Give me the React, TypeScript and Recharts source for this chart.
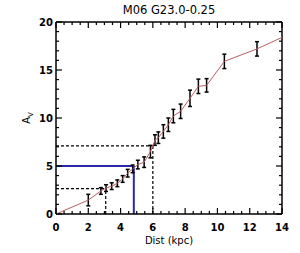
import React from "react";
import {
  ComposedChart,
  XAxis,
  YAxis,
  Scatter,
  ErrorBar,
  ReferenceLine,
} from "recharts";

const distKpc = [2.0, 2.78, 3.1, 3.45, 3.8, 4.13, 4.44, 4.75, 5.07, 5.46, 5.85, 6.13, 6.34, 6.65, 6.96, 7.27, 7.72, 8.3, 8.82, 9.33, 10.43, 12.45];
const avValues = [1.45, 2.4, 2.7, 2.9, 3.2, 3.65, 4.25, 4.7, 5.15, 5.4, 6.5, 7.7, 7.95, 8.6, 9.3, 10.2, 10.7, 12.05, 13.3, 13.4, 15.9, 17.2];
const avErrors = [0.6, 0.35, 0.35, 0.35, 0.35, 0.35, 0.4, 0.4, 0.45, 0.55, 0.65, 0.55, 0.6, 0.7, 0.7, 0.7, 0.75, 0.85, 0.75, 0.7, 0.75, 0.75];

const lineStart = { x: 0, y: 0 };
const lineEnd = { x: 14, y: 18.4 };

const xAllTicks = Array.from({ length: 29 }, (_, i) => i * 0.5);
const yAllTicks = Array.from({ length: 21 }, (_, i) => i);

const lowerDashed = { x: 3.08, y: 2.65 };
const upperDashed = { x: 6.0, y: 7.1 };
const blueMark = { x: 4.82, y: 5.0 };

const titleText = "M06 G23.0-0.25";
const xLabelText = "Dist (kpc)";

const errData = distKpc.map((x, i) => ({ x, y: avValues[i], err: avErrors[i] }));
const lineData = [lineStart, ...distKpc.map((x, i) => ({ x, y: avValues[i] })), lineEnd];

const FONT = "'DejaVu Sans', 'Liberation Sans', sans-serif";

const isMajor = (v: number, step: number) => Math.abs(v / step - Math.round(v / step)) < 1e-6;

const BottomTick = (props: any) => {
  const { x, y, payload } = props;
  const major = isMajor(payload.value, 2);
  const len = major ? 6 : 3;
  return (
    <g>
      <line x1={x} x2={x} y1={y} y2={y - len} stroke="#000" strokeWidth={1.2} />
      {major && (
        <text x={x} y={y + 17} textAnchor="middle" fontSize={10} fontWeight="bold" fontFamily={FONT} fill="#000">
          {payload.value}
        </text>
      )}
    </g>
  );
};

const TopTick = (props: any) => {
  const { x, y, payload } = props;
  const major = isMajor(payload.value, 2);
  const len = major ? 6 : 3;
  return <line x1={x} x2={x} y1={y} y2={y + len} stroke="#000" strokeWidth={1.2} />;
};

const LeftTick = (props: any) => {
  const { x, y, payload } = props;
  const major = isMajor(payload.value, 5);
  const len = major ? 6 : 3;
  return (
    <g>
      <line x1={x} x2={x + len} y1={y} y2={y} stroke="#000" strokeWidth={1.2} />
      {major && (
        <text x={x - 3} y={y + 4} textAnchor="end" fontSize={10} fontWeight="bold" fontFamily={FONT} fill="#000">
          {payload.value}
        </text>
      )}
    </g>
  );
};

const RightTick = (props: any) => {
  const { x, y, payload } = props;
  const major = isMajor(payload.value, 5);
  const len = major ? 6 : 3;
  return <line x1={x} x2={x - len} y1={y} y2={y} stroke="#000" strokeWidth={1.2} />;
};

const NoShape = () => null;

export default function App() {
  return (
    <div style={{ position: "absolute", left: 0, top: 0, width: 300, height: 253, background: "#fff" }}>
      <ComposedChart width={300} height={253} margin={{ top: 0, right: 0, bottom: 0, left: 0 }}>
        <XAxis
          xAxisId={0}
          type="number"
          dataKey="x"
          domain={[0, 14]}
          ticks={xAllTicks}
          interval={0}
          orientation="bottom"
          height={39}
          tickSize={0}
          tickMargin={0}
          tickLine={false}
          tick={<BottomTick />}
          axisLine={{ stroke: "#000", strokeWidth: 1.5 }}
          allowDataOverflow
          label={{
            content: (p: any) => {
              const vb = p.viewBox;
              return (
                <text x={vb.x + vb.width / 2} y={vb.y + 30} textAnchor="middle" fontSize={10} fontFamily={FONT} fill="#000">
                  {xLabelText}
                </text>
              );
            },
          }}
        />
        <XAxis
          xAxisId="top"
          type="number"
          dataKey="x"
          domain={[0, 14]}
          ticks={xAllTicks}
          interval={0}
          orientation="top"
          height={22}
          tickSize={0}
          tickMargin={0}
          tickLine={false}
          tick={<TopTick />}
          axisLine={{ stroke: "#000", strokeWidth: 1.5 }}
          allowDataOverflow
          label={{
            content: (p: any) => {
              const vb = p.viewBox;
              return (
                <text x={vb.x + vb.width / 2} y={14} textAnchor="middle" fontSize={11.5} fontFamily={FONT} fill="#000">
                  {titleText}
                </text>
              );
            },
          }}
        />
        <YAxis
          yAxisId={0}
          type="number"
          domain={[0, 20]}
          ticks={yAllTicks}
          interval={0}
          orientation="left"
          width={56}
          tickSize={0}
          tickMargin={0}
          tickLine={false}
          tick={<LeftTick />}
          axisLine={{ stroke: "#000", strokeWidth: 1.5 }}
          allowDataOverflow
          label={{
            content: (p: any) => {
              const vb = p.viewBox;
              const cx = 30;
              const cy = vb.y + vb.height / 2;
              return (
                <text transform={`rotate(-90 ${cx} ${cy})`} x={cx} y={cy} textAnchor="middle" fontSize={10} fontFamily={FONT} fill="#000">
                  A<tspan fontSize={7} dy={3}>V</tspan>
                </text>
              );
            },
          }}
        />
        <YAxis
          yAxisId="right"
          type="number"
          domain={[0, 20]}
          ticks={yAllTicks}
          interval={0}
          orientation="right"
          width={18}
          tickSize={0}
          tickMargin={0}
          tickLine={false}
          tick={<RightTick />}
          axisLine={{ stroke: "#000", strokeWidth: 1.5 }}
          allowDataOverflow
        />
        <ReferenceLine
          segment={[{ x: 0, y: lowerDashed.y }, { x: lowerDashed.x, y: lowerDashed.y }]}
          stroke="#000"
          strokeWidth={1.2}
          strokeDasharray="3 2"
        />
        <ReferenceLine
          segment={[{ x: lowerDashed.x, y: 0 }, { x: lowerDashed.x, y: lowerDashed.y }]}
          stroke="#000"
          strokeWidth={1.2}
          strokeDasharray="3 2"
        />
        <ReferenceLine
          segment={[{ x: 0, y: upperDashed.y }, { x: upperDashed.x, y: upperDashed.y }]}
          stroke="#000"
          strokeWidth={1.2}
          strokeDasharray="3 2"
        />
        <ReferenceLine
          segment={[{ x: upperDashed.x, y: 0 }, { x: upperDashed.x, y: upperDashed.y }]}
          stroke="#000"
          strokeWidth={1.2}
          strokeDasharray="3 2"
        />
        <ReferenceLine
          segment={[{ x: 0, y: blueMark.y }, { x: blueMark.x, y: blueMark.y }]}
          stroke="#2a2aa8"
          strokeWidth={2}
        />
        <ReferenceLine
          segment={[{ x: blueMark.x, y: 0 }, { x: blueMark.x, y: blueMark.y }]}
          stroke="#2a2aa8"
          strokeWidth={2}
        />
        <Scatter
          data={lineData}
          dataKey="y"
          line={{ stroke: "#b85f64", strokeWidth: 1 }}
          shape={NoShape}
          isAnimationActive={false}
        />
        <Scatter data={errData} dataKey="y" shape={NoShape} isAnimationActive={false}>
          <ErrorBar dataKey="err" direction="y" width={2} stroke="#000" strokeWidth={1.5} isAnimationActive={false} />
        </Scatter>
      </ComposedChart>
    </div>
  );
}
